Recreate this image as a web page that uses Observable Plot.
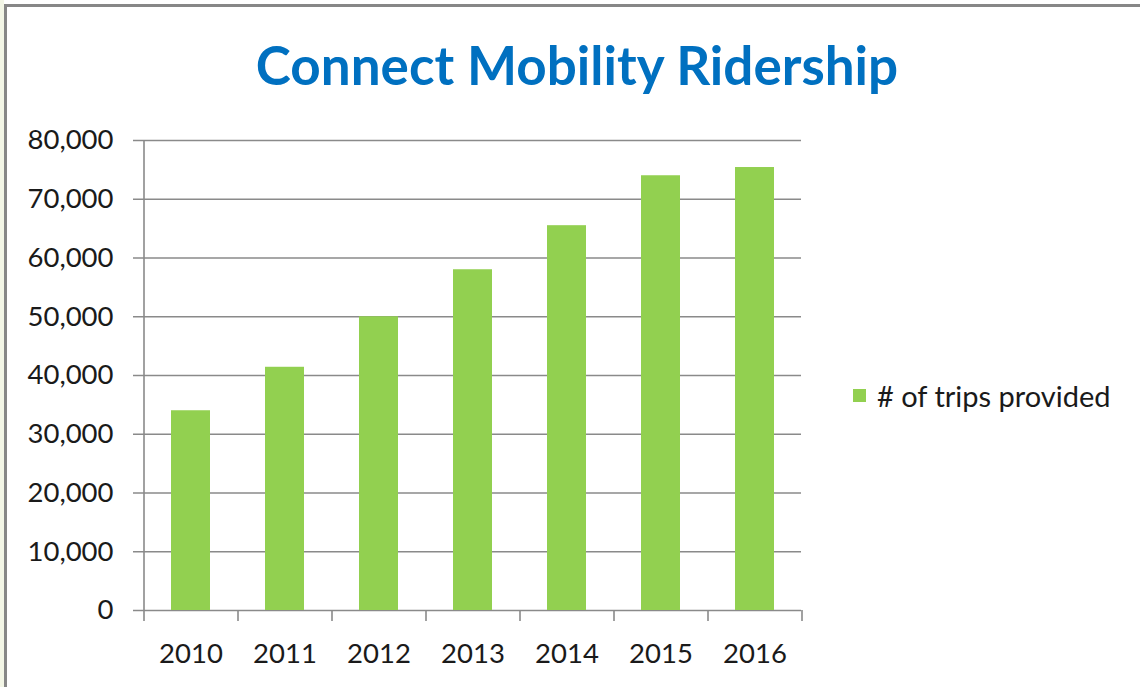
<!DOCTYPE html>
<html>
<head>
<meta charset="utf-8">
<script src="https://cdn.jsdelivr.net/npm/d3@7"></script>
<script src="https://cdn.jsdelivr.net/npm/@observablehq/plot@0.6"></script>
<style>
  html, body { margin: 0; padding: 0; background: #ffffff; }
  #wrap { position: relative; width: 1140px; height: 687px; overflow: hidden; background: #ffffff; font-family: Lato, "Open Sans", sans-serif; }
  #strip { position: absolute; left: 0; top: 0; width: 4px; height: 687px; background: #f3f6e6; }
  #frame { position: absolute; left: 4px; top: 4px; width: 1140px; height: 700px; border-left: 3px solid #878787; border-top: 3px solid #878787; box-sizing: border-box; }
  #title { position: absolute; left: 0; width: 1154px; top: 33px; text-align: center; color: #0070c0; font-weight: 700; font-size: 53px; line-height: 64px; white-space: nowrap; }
  #legend { position: absolute; left: 853px; top: 378px; font-size: 29px; color: #1a1a1a; display: flex; align-items: center; white-space: nowrap; }
  #legend .sw { width: 13px; height: 13px; background: #92d050; margin-right: 11px; }
  #chart { position: absolute; left: 0; top: 0; }
</style>
</head>
<body>
<div id="wrap">
  <div id="strip"></div>
  <div id="frame"></div>
  <div id="title">Connect Mobility Ridership</div>
  <div id="legend"><div class="sw"></div><span># of trips provided</span></div>
  <div id="chart"></div>
</div>
<script>
const years = ["2010", "2011", "2012", "2013", "2014", "2015", "2016"];
const trips = [34000, 41400, 50000, 58000, 65500, 74000, 75400];
const yTicks = [0, 10000, 20000, 30000, 40000, 50000, 60000, 70000, 80000];
const seriesName = "# of trips provided";

const data = years.map((y, i) => ({year: y, trips: trips[i]}));

const W = 1140, H = 687;
const mL = 143, mR = 339, mT = 140, mB = 77;
const step = (W - mL - mR) / years.length;
const gridColor = "#8a8a8a";
const first = years[0], last = years[years.length - 1];

const chart = Plot.plot({
  width: W,
  height: H,
  marginLeft: mL,
  marginRight: mR,
  marginTop: mT,
  marginBottom: mB,
  style: {background: "transparent", fontFamily: "Lato, 'Open Sans', sans-serif", fontSize: "27px", color: "#1a1a1a"},
  x: {domain: years, paddingInner: 0.59, paddingOuter: 0.295, align: 0.5},
  y: {domain: [0, 80000]},
  marks: [
    Plot.gridY(yTicks, {stroke: gridColor, strokeOpacity: 1, strokeWidth: 1.6, insetLeft: -10}),
    Plot.ruleX([first], {x: d => d, dx: -step / 2, y1: 80000, y2: 0, insetBottom: -11, stroke: gridColor, strokeWidth: 1.6}),
    Plot.ruleX(years.slice(1), {x: d => d, dx: -step / 2, y1: 0, y2: 0, insetBottom: -11, stroke: gridColor, strokeWidth: 1.6}),
    Plot.ruleX([last], {x: d => d, dx: step / 2, y1: 0, y2: 0, insetBottom: -11, stroke: gridColor, strokeWidth: 1.6}),
    Plot.barY(data, {x: "year", y: "trips", fill: "#92d050"}),
    Plot.axisY(yTicks, {tickSize: 0, tickPadding: 30, tickFormat: d3.format(","), fill: "#1a1a1a", fontSize: 27.5, label: null}),
    Plot.axisX({tickSize: 0, tickPadding: 33, fill: "#1a1a1a", fontSize: 27.5, label: null})
  ]
});
document.getElementById("chart").appendChild(chart);
</script>
</body>
</html>
